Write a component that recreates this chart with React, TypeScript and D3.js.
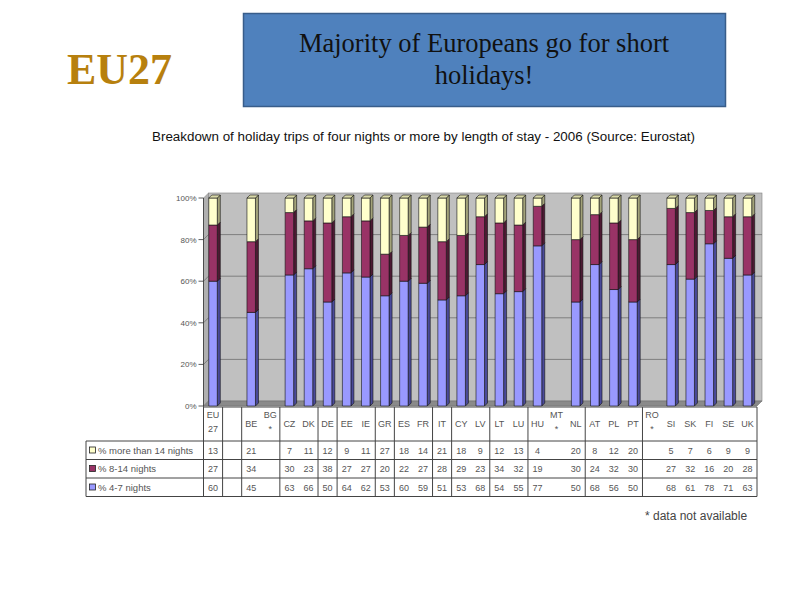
import React from 'react';
import * as d3 from 'd3';

// categories as they appear on the x axis / table header
const categories = [
  'EU 27', '', 'BE', 'BG *', 'CZ', 'DK', 'DE', 'EE', 'IE', 'GR', 'ES', 'FR', 'IT', 'CY', 'LV',
  'LT', 'LU', 'HU', 'MT *', 'NL', 'AT', 'PL', 'PT', 'RO *', 'SI', 'SK', 'FI', 'SE', 'UK',
];

// % of trips, null = no data
const nights4to7 = [
  60, null, 45, null, 63, 66, 50, 64, 62, 53, 60, 59, 51, 53, 68,
  54, 55, 77, null, 50, 68, 56, 50, null, 68, 61, 78, 71, 63,
];
const nights8to14 = [
  27, null, 34, null, 30, 23, 38, 27, 27, 20, 22, 27, 28, 29, 23,
  34, 32, 19, null, 30, 24, 32, 30, null, 27, 32, 16, 20, 28,
];
const nightsOver14 = [
  13, null, 21, null, 7, 11, 12, 9, 11, 27, 18, 14, 21, 18, 9,
  12, 13, 4, null, 20, 8, 12, 20, null, 5, 7, 6, 9, 9,
];

const seriesKeys = ['short', 'medium', 'long'];
const seriesLabels = ['% 4-7 nights', '% 8-14 nights', '% more than 14 nights'];
const yTicks = [0, 20, 40, 60, 80, 100];

const colors: Record<string, string> = { short: '#9999FF', medium: '#993366', long: '#FFFFCC' };
const sideColors: Record<string, string> = { short: '#4a4a9a', medium: '#4d1a33', long: '#a3a37a' };

// table column borders that show in the original (boundary index)
const tableDividers = [0, 1, 2, 4, 6, 7, 9, 10, 12, 13, 15, 17, 20, 23, 29];

export default function App() {
  const left = 203.5;
  const right = 757;
  const depth = 5;
  const barDepth = 3;
  const barW = 8.5;

  const x = d3.scaleBand().domain(categories).range([left, right]);
  const y = d3.scaleLinear().domain([0, 100]).range([406, 198]);

  const rows = categories.map((c, i) => ({
    cat: c,
    has: nights4to7[i] != null,
    short: nights4to7[i] ?? 0,
    medium: nights8to14[i] ?? 0,
    long: nightsOver14[i] ?? 0,
  }));
  const stacked = d3.stack<any>().keys(seriesKeys)(rows);

  const axisY = 407;
  const rowTop = 441;
  const rowH = 18.5;
  const tableRows = [
    { key: 'long', vals: nightsOver14 },
    { key: 'medium', vals: nights8to14 },
    { key: 'short', vals: nights4to7 },
  ];
  const labelOf: Record<string, string> = {
    short: seriesLabels[0],
    medium: seriesLabels[1],
    long: seriesLabels[2],
  };
  const tableBottom = rowTop + rowH * 3;
  const font = 'Liberation Sans, Arial, sans-serif';
  const serif = 'Liberation Serif, Times New Roman, serif';

  return (
    <svg width={800} height={600} style={{ position: 'absolute', left: 0, top: 0, background: '#fff' }}>
      {/* header */}
      <text x={67} y={84} fontFamily={serif} fontWeight="bold" fontSize={45} fill="#B7800E" textLength={105} lengthAdjust="spacingAndGlyphs">
        EU27
      </text>
      <rect x={243.5} y={13.5} width={482} height={93} fill="#4F81BD" stroke="#385D8A" strokeWidth={1.5} />
      <text x={484} y={52} textAnchor="middle" fontFamily={serif} fontSize={26.5} fill="#111">
        Majority of Europeans go for short
      </text>
      <text x={484} y={84} textAnchor="middle" fontFamily={serif} fontSize={26.5} fill="#111">
        holidays!
      </text>

      <text x={152} y={141} fontFamily={font} fontSize={12.5} fill="#111" textLength={543} lengthAdjust="spacingAndGlyphs">
        Breakdown of holiday trips of four nights or more by length of stay - 2006 (Source: Eurostat)
      </text>

      {/* 3D walls */}
      <polygon
        points={`${left},${y(100)} ${left + depth},${y(100) - depth} ${left + depth},${y(0) - depth} ${left},${y(0)}`}
        fill="#b0b0b0"
        stroke="#808080"
        strokeWidth={0.5}
      />
      <rect
        x={left + depth}
        y={y(100) - depth}
        width={right - left}
        height={y(0) - y(100)}
        fill="#C0C0C0"
        stroke="#808080"
        strokeWidth={0.6}
      />
      <polygon
        points={`${left},${y(0)} ${right},${y(0)} ${right + depth},${y(0) - depth} ${left + depth},${y(0) - depth}`}
        fill="#8a8a8a"
        stroke="#666"
        strokeWidth={0.5}
      />
      {yTicks.map((t) => (
        <g key={t}>
          {t > 0 && t < 100 && (
            <>
              <line x1={left + depth} x2={right + depth} y1={y(t) - depth} y2={y(t) - depth} stroke="#6e6e6e" strokeWidth={0.8} />
              <line x1={left} x2={left + depth} y1={y(t)} y2={y(t) - depth} stroke="#6e6e6e" strokeWidth={0.8} />
            </>
          )}
          <line x1={left - 5} x2={left} y1={y(t)} y2={y(t)} stroke="#333" strokeWidth={0.8} />
          <text x={left - 7} y={y(t) + 3} textAnchor="end" fontFamily={font} fontSize={8} fill="#555">
            {t}%
          </text>
        </g>
      ))}
      <line x1={left} x2={left} y1={y(100)} y2={axisY} stroke="#333" strokeWidth={0.8} />

      {/* bars */}
      {rows.map((r, i) => {
        if (!r.has) return null;
        const cx = (x(r.cat) ?? 0) + x.bandwidth() / 2;
        const xl = cx - barW / 2;
        const xr = cx + barW / 2;
        return (
          <g key={r.cat} stroke="#111" strokeWidth={0.6} strokeLinejoin="round">
            {stacked.map((s, si) => {
              const seg = s[i];
              const y0 = y(seg[0]);
              const y1 = y(seg[1]);
              return (
                <g key={s.key}>
                  <polygon
                    points={`${xr},${y1} ${xr + barDepth},${y1 - barDepth} ${xr + barDepth},${y0 - barDepth} ${xr},${y0}`}
                    fill={sideColors[s.key]}
                  />
                  <rect x={xl} y={y1} width={barW} height={y0 - y1} fill={colors[s.key]} />
                  {si === stacked.length - 1 && (
                    <polygon
                      points={`${xl},${y1} ${xl + barDepth},${y1 - barDepth} ${xr + barDepth},${y1 - barDepth} ${xr},${y1}`}
                      fill="#d8d8a8"
                    />
                  )}
                </g>
              );
            })}
          </g>
        );
      })}

      {/* data table */}
      <line x1={left} x2={right} y1={axisY} y2={axisY} stroke="#444" strokeWidth={1} />
      {[0, 1, 2, 3].map((k) => (
        <line key={k} x1={86} x2={right} y1={rowTop + k * rowH} y2={rowTop + k * rowH} stroke="#444" strokeWidth={1} />
      ))}
      <line x1={86} x2={86} y1={rowTop} y2={tableBottom} stroke="#444" strokeWidth={1} />
      {tableDividers.map((b) => {
        const bx = left + b * x.step();
        return <line key={b} x1={bx} x2={bx} y1={axisY} y2={tableBottom} stroke="#444" strokeWidth={1} />;
      })}

      {categories.map((c) => {
        const cx = (x(c) ?? 0) + x.bandwidth() / 2;
        const parts = c.split(' ').filter((p) => p);
        if (parts.length === 2) {
          return (
            <g key={c} fontFamily={font} fontSize={9} fill="#555" textAnchor="middle">
              <text x={cx} y={418}>{parts[0]}</text>
              <text x={cx} y={432}>{parts[1]}</text>
            </g>
          );
        }
        return (
          <text key={c} x={cx} y={427} fontFamily={font} fontSize={9} fill="#555" textAnchor="middle">
            {c}
          </text>
        );
      })}

      {tableRows.map((tr, ri) => {
        const ty = rowTop + ri * rowH;
        return (
          <g key={tr.key}>
            <rect x={89.5} y={ty + 6} width={6} height={6} fill={colors[tr.key]} stroke="#222" strokeWidth={0.8} />
            <text x={98} y={ty + 12.5} fontFamily={font} fontSize={9.5} fill="#555">
              {labelOf[tr.key]}
            </text>
            {tr.vals.map((v, i) =>
              v == null ? null : (
                <text
                  key={i}
                  x={(x(categories[i]) ?? 0) + x.bandwidth() / 2}
                  y={ty + 12.5}
                  fontFamily={font}
                  fontSize={9}
                  fill="#555"
                  textAnchor="middle"
                >
                  {v}
                </text>
              )
            )}
          </g>
        );
      })}

      <text x={645} y={520} fontFamily={font} fontSize={12} fill="#444">
        * data not available
      </text>
    </svg>
  );
}
